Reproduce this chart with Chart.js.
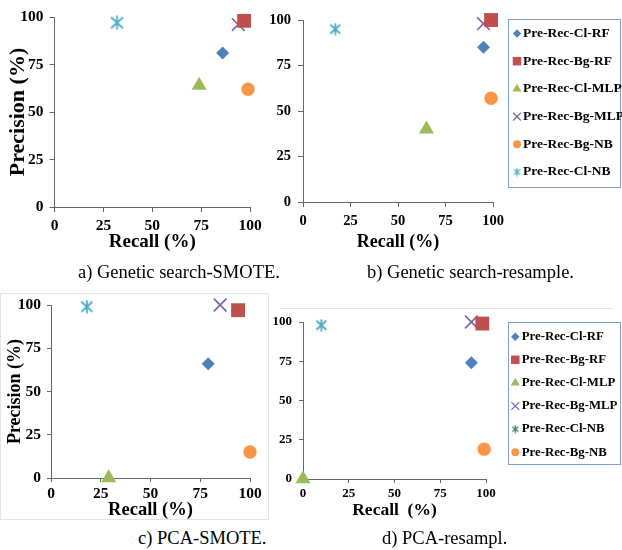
<!DOCTYPE html>
<html>
<head>
<meta charset="utf-8">
<script src="https://cdn.jsdelivr.net/npm/chart.js@4.4.1/dist/chart.umd.min.js"></script>
<style>
  body { margin: 0; background: #fff; }
  #page { position: relative; width: 622px; height: 550px; overflow: hidden; font-family: "Liberation Serif", "Times New Roman", serif; }
  canvas { position: absolute; }
  .cap { position: absolute; font-size: 18.5px; line-height: 20px; white-space: nowrap; color: #000; }
  .frame { position: absolute; border: 1px solid #e4e4e4; }
</style>
</head>
<body>
<div id="page">
  <div class="frame" style="left:0px;top:293px;width:267px;height:225px"></div>
  <div class="frame" style="left:280px;top:308px;width:333px;height:0px;border-width:1px 0 0 0"></div>
  <canvas id="chartA" width="270" height="253" style="left:0px;top:0px"></canvas>
  <canvas id="chartB" width="367" height="253" style="left:255px;top:0px"></canvas>
  <canvas id="chartC" width="270" height="241" style="left:0px;top:280px"></canvas>
  <canvas id="chartD" width="367" height="241" style="left:255px;top:280px"></canvas>
  <div class="cap" style="left:78px;top:262px">a) Genetic search-SMOTE.</div>
  <div class="cap" style="left:367px;top:262px">b) Genetic search-resample.</div>
  <div class="cap" style="left:138px;top:528px">c) PCA-SMOTE.</div>
  <div class="cap" style="left:382px;top:528px">d) PCA-resampl.</div>
</div>
<script>
// series, in the order they are plotted
const seriesNames = ['Pre-Rec-Cl-RF', 'Pre-Rec-Bg-RF', 'Pre-Rec-Cl-MLP', 'Pre-Rec-Bg-MLP', 'Pre-Rec-Bg-NB', 'Pre-Rec-Cl-NB'];

// a) Genetic search-SMOTE
const recallA = [86, 97, 74, 94, 99, 32];
const precisionA = [81, 98, 64, 96, 62, 97];
// b) Genetic search-resample
const recallB = [95, 99, 65, 95, 99, 17];
const precisionB = [85, 100, 40, 98, 57, 95];
// c) PCA-SMOTE
const recallC = [79, 94, 29, 85, 100, 18];
const precisionC = [66, 97, 0, 100, 15, 99];
// d) PCA-resampl
const recallD = [92, 98, 0, 92, 99, 10];
const precisionD = [74, 99, 0, 100, 19, 98];

const axisTicks = [0, 25, 50, 75, 100];
const legendOrderB = [0, 1, 2, 3, 4, 5];
const legendOrderD = [0, 1, 2, 3, 5, 4];

const family = '"Liberation Serif", "Times New Roman", serif';
const axisColor = '#666666';

// marker look per series (same index as seriesNames)
const seriesStyle = [
  { style: 'rectRot', r: 6.5, lr: 4.2, color: '#4F81BD' },
  { style: 'rect', r: 9.8, lr: 6, color: '#C0504D' },
  { style: 'triangle', r: 8.7, lr: 5.2, color: '#9BBB59' },
  { style: 'crossRot', r: 9, lr: 5.5, color: '#8064A2' },
  { style: 'circle', r: 6.7, lr: 4, color: '#F79646' },
  { style: 'asterisk', r: 7, lr: 4, color: '#4BACC6' }
];

// Excel style "star" marker: an X with a vertical bar
function makeAsterisk(size, color, lw) {
  const c = document.createElement('canvas');
  c.width = size;
  c.height = size;
  const g = c.getContext('2d');
  g.strokeStyle = color;
  g.lineWidth = lw;
  const m = size / 2;
  g.beginPath();
  g.moveTo(m, 0.5); g.lineTo(m, size - 0.5);
  g.moveTo(1.5, 2); g.lineTo(size - 1.5, size - 2);
  g.moveTo(size - 1.5, 2); g.lineTo(1.5, size - 2);
  g.stroke();
  return c;
}

// legend with a border box, drawn after the chart
const boxLegend = {
  id: 'boxLegend',
  afterDraw(chart, args, opts) {
    if (!opts.order) return;
    const ctx = chart.ctx;
    ctx.save();
    ctx.strokeStyle = opts.borderColor;
    ctx.lineWidth = 1;
    ctx.strokeRect(opts.left + 0.5, opts.top + 0.5, opts.width, opts.height);
    ctx.font = 'bold ' + opts.fontSize + 'px ' + family;
    ctx.textBaseline = 'middle';
    ctx.textAlign = 'left';
    opts.order.forEach((idx, i) => {
      const st = seriesStyle[idx];
      const y = opts.firstRow + i * opts.rowStep;
      const color = (st.style === 'asterisk' && opts.starColor) ? opts.starColor : st.color;
      ctx.fillStyle = color;
      ctx.strokeStyle = color;
      ctx.lineWidth = 1.2;
      const pointStyle = st.style === 'asterisk' ? makeAsterisk(9, color, 1.2) : st.style;
      Chart.helpers.drawPoint(ctx, { pointStyle: pointStyle, radius: st.lr, borderWidth: st.style === 'crossRot' ? 1.2 : 0 }, opts.markerX, y);
      ctx.fillStyle = '#000';
      ctx.fillText(seriesNames[idx], opts.textX, y);
    });
    ctx.restore();
  }
};

function buildPanel(id, recall, precision, cfg) {
  const datasets = seriesNames.map((name, i) => {
    const st = seriesStyle[i];
    return {
      label: name,
      data: [{ x: recall[i], y: precision[i] }],
      pointStyle: st.style === 'asterisk' ? makeAsterisk(cfg.starSize, st.color, 1.8) : st.style,
      pointRadius: st.r,
      pointHoverRadius: st.r,
      pointBackgroundColor: st.color,
      pointBorderColor: st.color,
      pointBorderWidth: st.style === 'crossRot' ? 1.7 : 0,
      clip: false
    };
  });

  const tickFont = { family: family, size: cfg.tickFont, weight: 'bold' };

  return new Chart(document.getElementById(id), {
    type: 'scatter',
    data: { datasets: datasets },
    plugins: cfg.legend ? [boxLegend] : [],
    options: {
      responsive: false,
      animation: false,
      events: [],
      devicePixelRatio: 1,
      layout: { padding: cfg.padding },
      plugins: {
        legend: { display: false },
        tooltip: { enabled: false },
        boxLegend: cfg.legend || {}
      },
      scales: {
        x: {
          type: 'linear',
          min: 0,
          max: 100,
          afterBuildTicks: s => { s.ticks = axisTicks.map(v => ({ value: v })); },
          afterFit: s => { s.height = cfg.xHeight; },
          border: { color: axisColor, width: 1 },
          grid: { drawOnChartArea: false, color: axisColor, tickLength: cfg.tickLen },
          ticks: { color: '#000', font: tickFont, padding: cfg.xPad, maxRotation: 0 },
          title: {
            display: true,
            text: cfg.xTitle,
            color: '#000',
            font: { family: family, size: cfg.xTitleFont, weight: 'bold' },
            padding: 0
          }
        },
        y: {
          type: 'linear',
          min: 0,
          max: 100,
          afterBuildTicks: s => { s.ticks = axisTicks.map(v => ({ value: v })); },
          afterFit: s => { s.width = cfg.yWidth; },
          border: { color: axisColor, width: 1 },
          grid: { drawOnChartArea: false, color: axisColor, tickLength: cfg.tickLen },
          ticks: { color: '#000', font: tickFont, padding: cfg.yPad },
          title: {
            display: !!cfg.yTitle,
            text: cfg.yTitle || '',
            color: '#000',
            font: { family: family, size: cfg.yTitleFont, weight: 'bold' },
            padding: 0
          }
        }
      }
    }
  });
}

buildPanel('chartA', recallA, precisionA, {
  padding: { left: 5, top: 17, right: 20, bottom: 0 },
  yWidth: 49.5, xHeight: 46, tickLen: 5, xPad: 5, yPad: 6,
  tickFont: 15.5, xTitle: 'Recall (%)', xTitleFont: 19,
  yTitle: 'Precision (%)', yTitleFont: 22, starSize: 15
});

buildPanel('chartB', recallB, precisionB, {
  padding: { left: 0, top: 20, right: 129, bottom: 0 },
  yWidth: 48, xHeight: 51, tickLen: 5, xPad: 6, yPad: 7,
  tickFont: 14.5, xTitle: 'Recall (%)', xTitleFont: 18, starSize: 13,
  legend: {
    left: 253, top: 19, width: 112, height: 168, borderColor: '#7f9fd0',
    markerX: 262, textX: 268, firstRow: 33.5, rowStep: 27.7, fontSize: 13.5,
    order: legendOrderB
  }
});

buildPanel('chartC', recallC, precisionC, {
  padding: { left: 5, top: 25, right: 20, bottom: 0 },
  yWidth: 46, xHeight: 43, tickLen: 4, xPad: 3, yPad: 6,
  tickFont: 15.5, xTitle: 'Recall (%)', xTitleFont: 18.5,
  yTitle: 'Precision (%)', yTitleFont: 18, starSize: 14
});

buildPanel('chartD', recallD, precisionD, {
  padding: { left: 0, top: 42, right: 136, bottom: 0 },
  yWidth: 48, xHeight: 42, tickLen: 4, xPad: 3, yPad: 7,
  tickFont: 13, xTitle: 'Recall  (%)', xTitleFont: 17.5, starSize: 13,
  legend: {
    left: 253, top: 42, width: 112, height: 142, borderColor: '#7f9fd0',
    markerX: 260.3, textX: 266.7, firstRow: 56.7, rowStep: 23.1, fontSize: 12.8,
    order: legendOrderD, starColor: '#2e7f6e'
  }
});
</script>
</body>
</html>
